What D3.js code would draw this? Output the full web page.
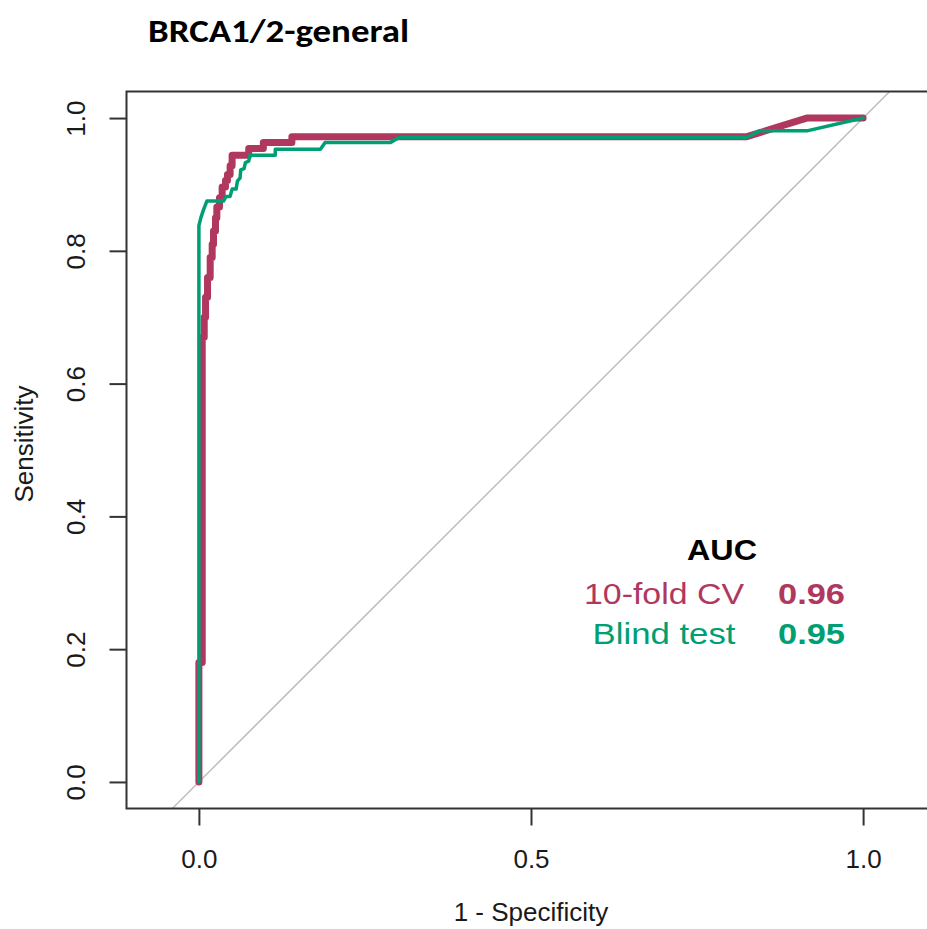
<!DOCTYPE html>
<html>
<head>
<meta charset="utf-8">
<script src="https://cdn.jsdelivr.net/npm/d3@7"></script>
<style>
  body { margin: 0; background: #fff; }
  svg { display: block; }
</style>
</head>
<body>
<div id="chart"></div>
<script>
// ROC points (x = 1 - specificity, y = sensitivity)
const cvFpr = [0, 0, 0.005, 0.005, 0.008, 0.008, 0.010, 0.010, 0.013, 0.013, 0.017, 0.017, 0.020, 0.020, 0.022, 0.022, 0.025, 0.025, 0.027, 0.027, 0.031, 0.031, 0.035, 0.035, 0.040, 0.040, 0.043, 0.043, 0.047, 0.047, 0.050, 0.050, 0.075, 0.075, 0.097, 0.097, 0.140, 0.140, 0.825, 0.915, 1];
const cvTpr = [0, 0.18, 0.18, 0.67, 0.67, 0.70, 0.70, 0.73, 0.73, 0.76, 0.76, 0.79, 0.79, 0.81, 0.81, 0.83, 0.83, 0.85, 0.85, 0.866, 0.866, 0.88, 0.88, 0.896, 0.896, 0.906, 0.906, 0.915, 0.915, 0.928, 0.928, 0.944, 0.944, 0.954, 0.954, 0.963, 0.963, 0.972, 0.972, 1.0, 1.0];

const blindFpr = [0, 0, 0.003, 0.007, 0.012, 0.037, 0.041, 0.047, 0.050, 0.056, 0.058, 0.062, 0.063, 0.068, 0.070, 0.075, 0.077, 0.115, 0.115, 0.183, 0.190, 0.288, 0.302, 0.825, 0.845, 0.917, 1];
const blindTpr = [0, 0.838, 0.85, 0.862, 0.875, 0.875, 0.882, 0.882, 0.893, 0.893, 0.905, 0.91, 0.922, 0.924, 0.933, 0.935, 0.944, 0.944, 0.953, 0.953, 0.963, 0.963, 0.971, 0.971, 0.981, 0.981, 1.0];

const tickValues = [0, 0.2, 0.4, 0.6, 0.8, 1.0];
const xTickValues = [0, 0.5, 1.0];
const legendNames = ["10-fold CV", "Blind test"];
const legendAuc = ["0.96", "0.95"];
const colors = ["#B0385F", "#009E73"];

const width = 927, height = 929;

const svg = d3.select("#chart")
    .append("svg")
    .attr("width", width)
    .attr("height", height);

const x = d3.scaleLinear().domain([-0.109, 1.109]).range([126.5, 935.5]);
const y = d3.scaleLinear().domain([-0.04, 1.04]).range([808.5, 91.5]);

// title
svg.append("text")
    .attr("x", 148)
    .attr("y", 42)
    .attr("font-family", "Carlito, 'Open Sans', sans-serif")
    .attr("font-weight", "bold")
    .attr("font-size", 33)
    .attr("textLength", 261)
    .attr("lengthAdjust", "spacingAndGlyphs")
    .text("BRCA1/2-general");

// reference diagonal
svg.append("line")
    .attr("x1", x(-0.04)).attr("y1", y(-0.04))
    .attr("x2", x(1.04)).attr("y2", y(1.04))
    .attr("stroke", "#bdbdbd")
    .attr("stroke-width", 1.5);

// curves
const line = d3.line()
    .x(d => x(d[0]))
    .y(d => y(d[1]));

const cvData = cvFpr.map((f, i) => [f, cvTpr[i]]);
const blindData = blindFpr.map((f, i) => [f, blindTpr[i]]);

svg.append("path")
    .datum(cvData)
    .attr("d", line)
    .attr("fill", "none")
    .attr("stroke", colors[0])
    .attr("stroke-width", 7)
    .attr("stroke-linejoin", "round")
    .attr("stroke-linecap", "round");

svg.append("path")
    .datum(blindData)
    .attr("d", line)
    .attr("fill", "none")
    .attr("stroke", colors[1])
    .attr("stroke-width", 3.5)
    .attr("stroke-linejoin", "round")
    .attr("stroke-linecap", "round");

// box
svg.append("rect")
    .attr("x", x.range()[0])
    .attr("y", y.range()[1])
    .attr("width", x.range()[1] - x.range()[0])
    .attr("height", y.range()[0] - y.range()[1])
    .attr("fill", "none")
    .attr("stroke", "#333")
    .attr("stroke-width", 2);

// axes
const yAxis = svg.append("g")
    .attr("transform", `translate(${x.range()[0]},0)`)
    .call(d3.axisLeft(y).tickValues(tickValues).tickSize(17).tickFormat(d3.format(".1f")));

const xAxis = svg.append("g")
    .attr("transform", `translate(0,${y.range()[0]})`)
    .call(d3.axisBottom(x).tickValues(xTickValues).tickSize(17).tickPadding(24).tickFormat(d3.format(".1f")));

[yAxis, xAxis].forEach(g => {
    g.select(".domain").remove();
    g.selectAll(".tick line").attr("stroke", "#333").attr("stroke-width", 2);
    g.selectAll(".tick text")
        .attr("font-family", "'Liberation Sans', Arial, sans-serif")
        .attr("font-size", 26)
        .attr("fill", "#1a1a1a");
});

yAxis.selectAll(".tick text")
    .attr("transform", "rotate(-90)")
    .attr("x", 0)
    .attr("y", -42)
    .attr("dy", 0)
    .attr("text-anchor", "middle");

// axis titles
svg.append("text")
    .attr("x", 531)
    .attr("y", 921)
    .attr("text-anchor", "middle")
    .attr("font-family", "'Liberation Sans', Arial, sans-serif")
    .attr("font-size", 26)
    .attr("fill", "#1a1a1a")
    .text("1 - Specificity");

svg.append("text")
    .attr("transform", "translate(33,444) rotate(-90)")
    .attr("text-anchor", "middle")
    .attr("font-family", "'Liberation Sans', Arial, sans-serif")
    .attr("font-size", 26)
    .attr("fill", "#1a1a1a")
    .text("Sensitivity");

// AUC legend
const legend = svg.append("g")
    .attr("font-family", "'Liberation Sans', Arial, sans-serif")
    .attr("font-size", 29);

legend.append("text")
    .attr("x", 722)
    .attr("y", 560)
    .attr("text-anchor", "middle")
    .attr("font-weight", "bold")
    .attr("textLength", 70)
    .attr("lengthAdjust", "spacingAndGlyphs")
    .text("AUC");

const nameLengths = [160, 143];
legendNames.forEach((name, i) => {
    legend.append("text")
        .attr("x", 664)
        .attr("y", 604 + i * 40)
        .attr("text-anchor", "middle")
        .attr("fill", colors[i])
        .attr("textLength", nameLengths[i])
        .attr("lengthAdjust", "spacingAndGlyphs")
        .text(name);

    legend.append("text")
        .attr("x", 778)
        .attr("y", 604 + i * 40)
        .attr("font-weight", "bold")
        .attr("fill", colors[i])
        .attr("textLength", 67)
        .attr("lengthAdjust", "spacingAndGlyphs")
        .text(legendAuc[i]);
});
</script>
</body>
</html>
